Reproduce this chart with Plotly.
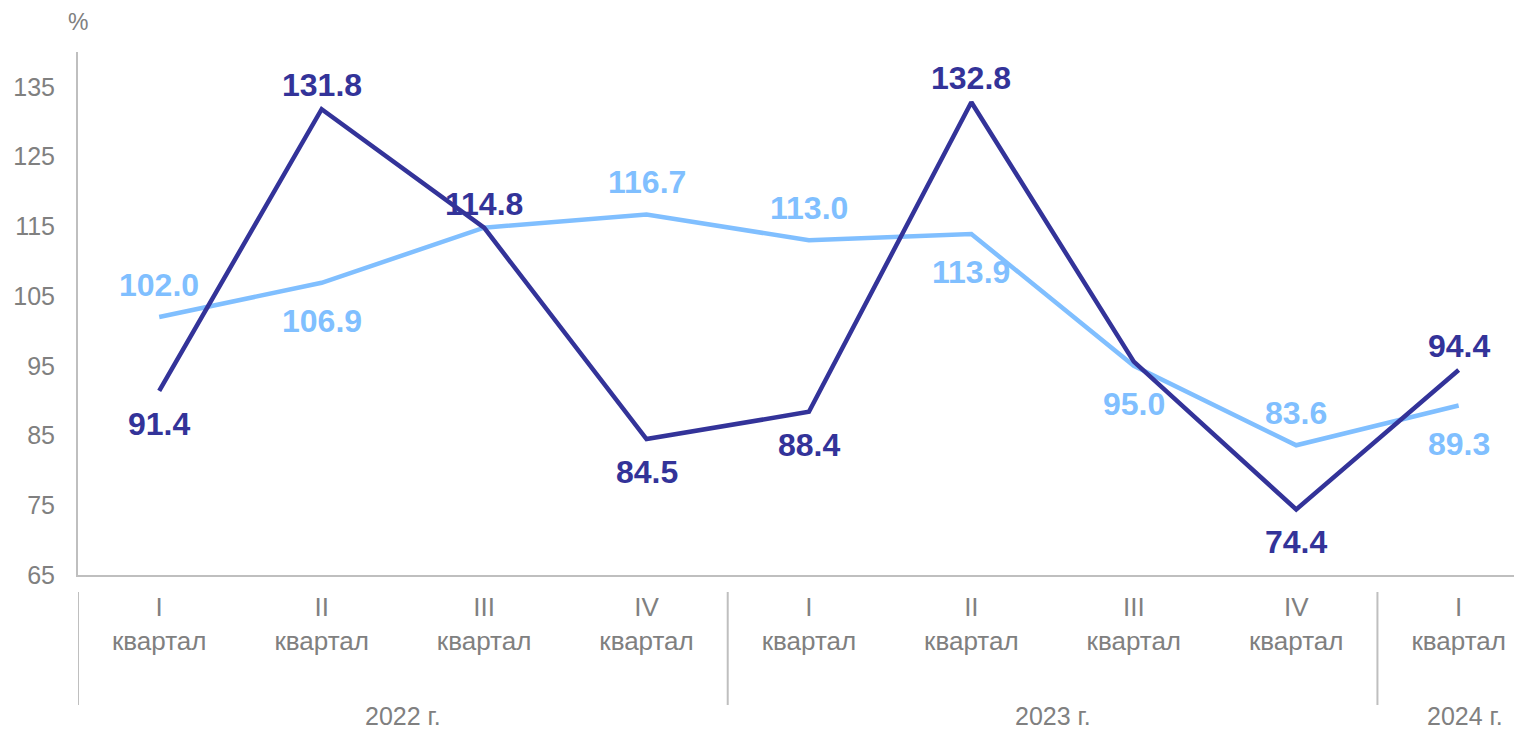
import plotly.graph_objects as go

quarters = ["I<br>квартал", "II<br>квартал", "III<br>квартал", "IV<br>квартал",
            "I<br>квартал", "II<br>квартал", "III<br>квартал", "IV<br>квартал",
            "I<br>квартал"]
years = ["2022 г.", "2023 г.", "2024 г."]
year_spans = [(0, 3), (4, 7), (8, 8)]

dark_values = [91.4, 131.8, 114.8, 84.5, 88.4, 132.8, 95.6, 74.4, 94.4]
dark_labels = ["91.4", "131.8", "114.8", "84.5", "88.4", "132.8", "", "74.4", "94.4"]
dark_pos = ["below", "above", "above", "below", "below", "above", "", "below", "above"]

light_values = [102.0, 106.9, 114.8, 116.7, 113.0, 113.9, 95.0, 83.6, 89.3]
light_labels = ["102.0", "106.9", "", "116.7", "113.0", "113.9", "95.0", "83.6", "89.3"]
light_pos = ["above", "below", "", "above", "above", "below", "below", "above", "below"]

DARK = "#333399"
LIGHT = "#80BFFF"
GREY = "#808080"
AXIS = "#BFBFBF"
FONT = "Liberation Sans, Arial, sans-serif"

x = list(range(len(quarters)))

fig = go.Figure()
fig.add_trace(go.Scatter(x=x, y=light_values, mode="lines",
                         line=dict(color=LIGHT, width=4.5), hoverinfo="skip"))
fig.add_trace(go.Scatter(x=x, y=dark_values, mode="lines",
                         line=dict(color=DARK, width=4.5), hoverinfo="skip"))

anns = []
for vals, labs, poss, col, up, down in [
        (dark_values, dark_labels, dark_pos, DARK, 24, -33),
        (light_values, light_labels, light_pos, LIGHT, 32, -38)]:
    for i, (v, t, p) in enumerate(zip(vals, labs, poss)):
        if not t:
            continue
        anns.append(dict(x=i, y=v, xref="x", yref="y", text=t, showarrow=False,
                         yanchor="middle", yshift=up if p == "above" else down,
                         font=dict(family=FONT, size=32, color=col, weight="bold")))

for k, ((a, b), yr) in enumerate(zip(year_spans, years)):
    anns.append(dict(x=(a + b) / 2, y=-0.2696, xref="x", yref="paper", text=yr,
                     showarrow=False, yanchor="middle",
                     xshift=6 if k == len(years) - 1 else 0,
                     font=dict(family=FONT, size=25, color=GREY)))

anns.append(dict(x=-0.5, y=1.0, xref="x", yref="paper", text="%", showarrow=False,
                 xanchor="right", yanchor="bottom", yshift=15, xshift=12,
                 font=dict(family=FONT, size=23, color=GREY)))

shapes = []
for sx in [-0.5, 3.5, 7.5]:
    shapes.append(dict(type="line", xref="x", yref="paper", x0=sx, x1=sx,
                       y0=-0.0325, y1=-0.2486, line=dict(color=AXIS, width=2)))

fig.update_layout(
    width=1514, height=722,
    margin=dict(l=70, r=0, t=44, b=155),
    paper_bgcolor="white", plot_bgcolor="white",
    showlegend=False,
    annotations=anns, shapes=shapes,
    font=dict(family=FONT, color=GREY),
)
fig.update_xaxes(range=[-0.5, 8.39], tickvals=x, ticktext=quarters, automargin=False,
                 showgrid=False, zeroline=False, showline=True, linecolor=AXIS,
                 linewidth=2, ticks="", tickfont=dict(family=FONT, size=26, color=GREY),
                 ticklabelstandoff=8)
fig.update_yaxes(range=[65, 140], tickvals=[65, 75, 85, 95, 105, 115, 125, 135],
                 automargin=False,
                 showgrid=False, zeroline=False, showline=True, linecolor=AXIS,
                 linewidth=2, ticks="", tickfont=dict(family=FONT, size=25, color=GREY),
                 ticklabelstandoff=16)

fig.write_html("out.html")
